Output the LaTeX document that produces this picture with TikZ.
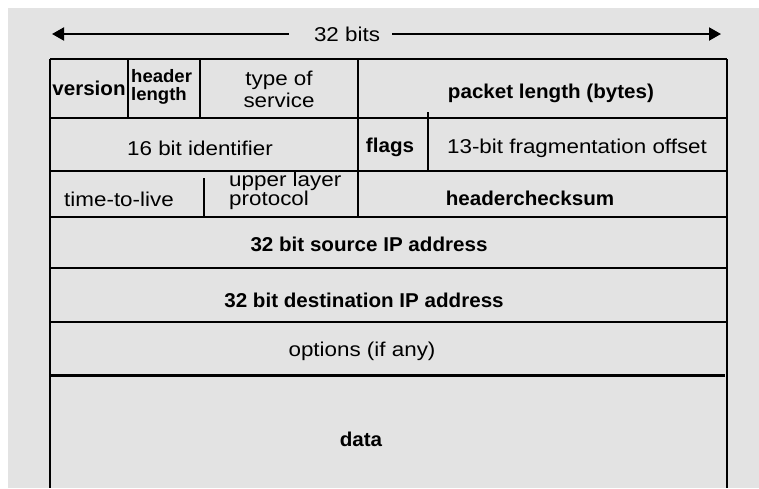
\documentclass[tikz,border=0pt]{standalone}
\usepackage{fontspec}
\setmainfont{Liberation Sans}[FakeStretch=1.12, BoldFeatures={FakeStretch=1.03}]
\usetikzlibrary{arrows.meta}
\definecolor{bg}{RGB}{227,227,227}
\begin{document}
\begin{tikzpicture}[x=1pt,y=-1pt,
  lbl/.style={inner sep=0pt, font=\fontsize{20}{17}\selectfont},
  blbl/.style={inner sep=0pt, font=\fontsize{20}{17}\selectfont\bfseries},
  grid/.style={line width=2.2pt, black},
  thin/.style={line width=1.5pt, black},
  thick/.style={line width=3pt, black},
  dimarrow/.style={line width=2pt, -{Triangle[length=12pt,width=13pt]}}]
% background
\fill[white] (0,0) rectangle (759,488);
\fill[bg] (8,8) rectangle (759,488);
\useasboundingbox (0,0) rectangle (759,488);

% width indicator
\node[lbl] (bits) at (347,34) {32 bits};
\coordinate (L) at (52,34);
\coordinate (R) at (721,34);
\draw[dimarrow] ([xshift=-25pt]bits.west) -- (L);
\draw[dimarrow] ([xshift=12pt]bits.east) -- (R);

% frame
\draw[grid] (50,59) -- (727,59);
\draw[grid] (50,59) -- (50,488);
\draw[thin] (727,59) -- (727,488);
% horizontal separators
\draw[grid] (50,118) -- (727,118);
\draw[grid] (50,171) -- (727,171);
\draw[grid] (50,217) -- (727,217);
\draw[thin] (50,268) -- (727,268);
\draw[grid] (50,322) -- (727,322);
\draw[thick] (50,375) -- (725,375);
% vertical separators
\draw[grid] (128,59) -- (128,118);
\draw[thin] (200,59) -- (200,118);
\draw[grid] (358,59) -- (358,217);
\draw[grid] (428,112) -- (428,171);
\draw[grid] (204,178) -- (204,217);

% row 1
\node[blbl] (version) at (89,88) {version};
\node[blbl, anchor=west, align=left, font=\fontsize{18}{18}\selectfont\bfseries] (hlen) at (131,87) {header\\length};
\node[lbl, align=center, font=\fontsize{20}{22}\selectfont] (tos) at (279,89) {type of\\service};
\node[blbl] (plen) at (551,93) {packet length (bytes)};
% row 2
\node[lbl] (ident) at (200,148) {16 bit identifier};
\node[blbl] (flags) at (390,147) {flags};
\node[lbl] (frag) at (577,148) {13-bit fragmentation offset};
% row 3
\node[lbl] (ttl) at (119,199) {time-to-live};
\node[lbl, anchor=west, align=left, font=\fontsize{20}{17}\selectfont] (proto) at (229,191) {upper layer\\protocol};
\node[blbl] (cksum) at (530,198) {headerchecksum};
% rows 4-7
\node[blbl] (src) at (369,244) {32 bit source IP address};
\node[blbl] (dst) at (364,300) {32 bit destination IP address};
\node[lbl] (opt) at (362,351) {options (if any)};
\node[blbl] (data) at (361,439) {data};
\end{tikzpicture}
\end{document}
